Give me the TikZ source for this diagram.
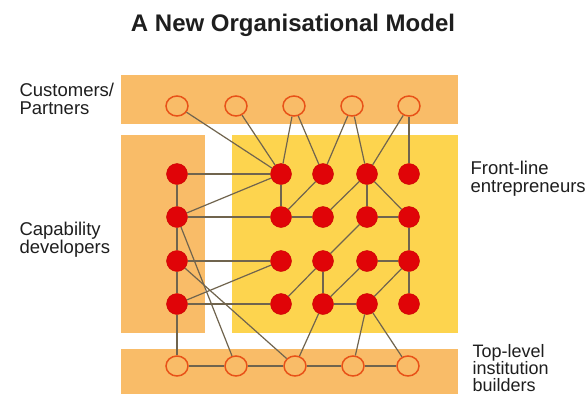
\documentclass[tikz,border=0pt]{standalone}
\usepackage{fontspec}
\setmainfont{Liberation Sans}
\usetikzlibrary{shapes.geometric}
\definecolor{bandorange}{RGB}{249,188,104}
\definecolor{bandyellow}{RGB}{253,212,78}
\definecolor{nodered}{RGB}{224,4,8}
\definecolor{rimred}{RGB}{200,0,0}
\definecolor{ringcol}{RGB}{232,82,24}
\definecolor{linecol}{RGB}{112,100,78}
\definecolor{txt}{RGB}{30,30,30}
\begin{document}
\begin{tikzpicture}[x=1pt,y=-1pt,
  band/.style={fill=bandorange,draw=none},
  yband/.style={fill=bandyellow,draw=none},
  ring/.style={ellipse,draw=ringcol,line width=1.5pt,minimum width=22pt,minimum height=20pt,inner sep=0pt},
  dot/.style={circle,fill=nodered,draw=rimred,line width=0.4pt,minimum size=21pt,inner sep=0pt},
  link/.style={draw=linecol,line width=1.2pt},
  lbl/.style={anchor=base west,align=left,text=txt,font=\fontsize{18.5}{17.5}\selectfont},
  ttl/.style={anchor=base,text=txt,font=\fontsize{24}{27}\selectfont\bfseries}]
\useasboundingbox (0,0) rectangle (587,394);
\fill[white] (0,0) rectangle (587,394);
% bands
\fill[band] (121,75) rectangle (458,124);
\fill[band] (121,135) rectangle (205,333);
\fill[yband] (232,135) rectangle (458,333);
\fill[band] (121,349) rectangle (458,394);
% title and labels (anchor = baseline of last line)
\node[ttl] (title) at (293,31) {A New Organisational Model};
\node[lbl] (lcust) at (16,114) {Customers/\\Partners};
\node[lbl] (lcap) at (16,253) {Capability\\developers};
\node[lbl] (lfront) at (467,192) {Front-line\\entrepreneurs};
\node[lbl,font=\fontsize{18}{16.8}\selectfont] (ltop) at (469,391) {Top-level\\institution\\builders};
% top rings
\node[ring] (u1) at (177,106) {};
\node[ring] (u2) at (236,106) {};
\node[ring] (u3) at (294,106) {};
\node[ring] (u4) at (352,106) {};
\node[ring] (u5) at (409,106) {};
% bottom rings
\node[ring] (w1) at (177,366) {};
\node[ring] (w2) at (236,366) {};
\node[ring] (w3) at (295,366) {};
\node[ring] (w4) at (353,366) {};
\node[ring] (w5) at (408,366) {};
% red dots r<col><row>
\foreach \rr/\yy in {1/174,2/217,3/261,4/304}{
  \foreach \cc/\xx in {a/177,b/281,c/323,d/367,e/409}{
    \node[dot] (r\cc\rr) at (\xx,\yy) {};
  }
}
% links from top rings
\draw[link] (u1) -- (rb1);
\draw[link] (u2) -- (rb1);
\draw[link] (u3) -- (rb1);
\draw[link] (u3) -- (rc1);
\draw[link] (u4) -- (rc1);
\draw[link] (u4) -- (rd1);
\draw[link] (u5) -- (rd1);
\draw[link] (u5) -- (re1);
% row 1
\draw[link] (ra1) -- (rb1);
\draw[link] (ra1) -- (ra2);
\draw[link] (ra2) -- (rb1);
\draw[link] (rb1) -- (rb2);
\draw[link] (rc1) -- (rb2);
\draw[link] (rd1) -- (rc2);
\draw[link] (rd1) -- (rd2);
\draw[link] (rd1) -- (re2);
% row 2
\draw[link] (ra2) -- (rb2);
\draw[link] (rb2) -- (rc2);
\draw[link] (rd2) -- (re2);
\draw[link] (re2) -- (re3);
\draw[link] (rd2) -- (rc3);
\draw[link] (ra2) -- (ra3);
\draw[link] (ra2) -- (w2);
% row 3
\draw[link] (ra3) -- (rb3);
\draw[link] (ra3) -- (ra4);
\draw[link] (ra3) -- (w3);
\draw[link] (rc3) -- (rb4);
\draw[link] (rc3) -- (rc4);
\draw[link] (rd3) -- (re3);
\draw[link] (rd3) -- (rc4);
\draw[link] (re3) -- (rd4);
\draw[link] (re3) -- (re4);
% row 4
\draw[link] (ra4) -- (rb4);
\draw[link] (ra4) -- (rb3);
\draw[link] (ra4) -- (w1);
\draw[link] (rc4) -- (rd4);
\draw[link] (rc4) -- (w3);
\draw[link] (rd4) -- (w4);
\draw[link] (rd4) -- (w5);
% bottom row
\draw[link] (w1) -- (w2);
\draw[link] (w2) -- (w3);
\draw[link] (w3) -- (w4);
\draw[link] (w4) -- (w5);
\end{tikzpicture}
\end{document}
